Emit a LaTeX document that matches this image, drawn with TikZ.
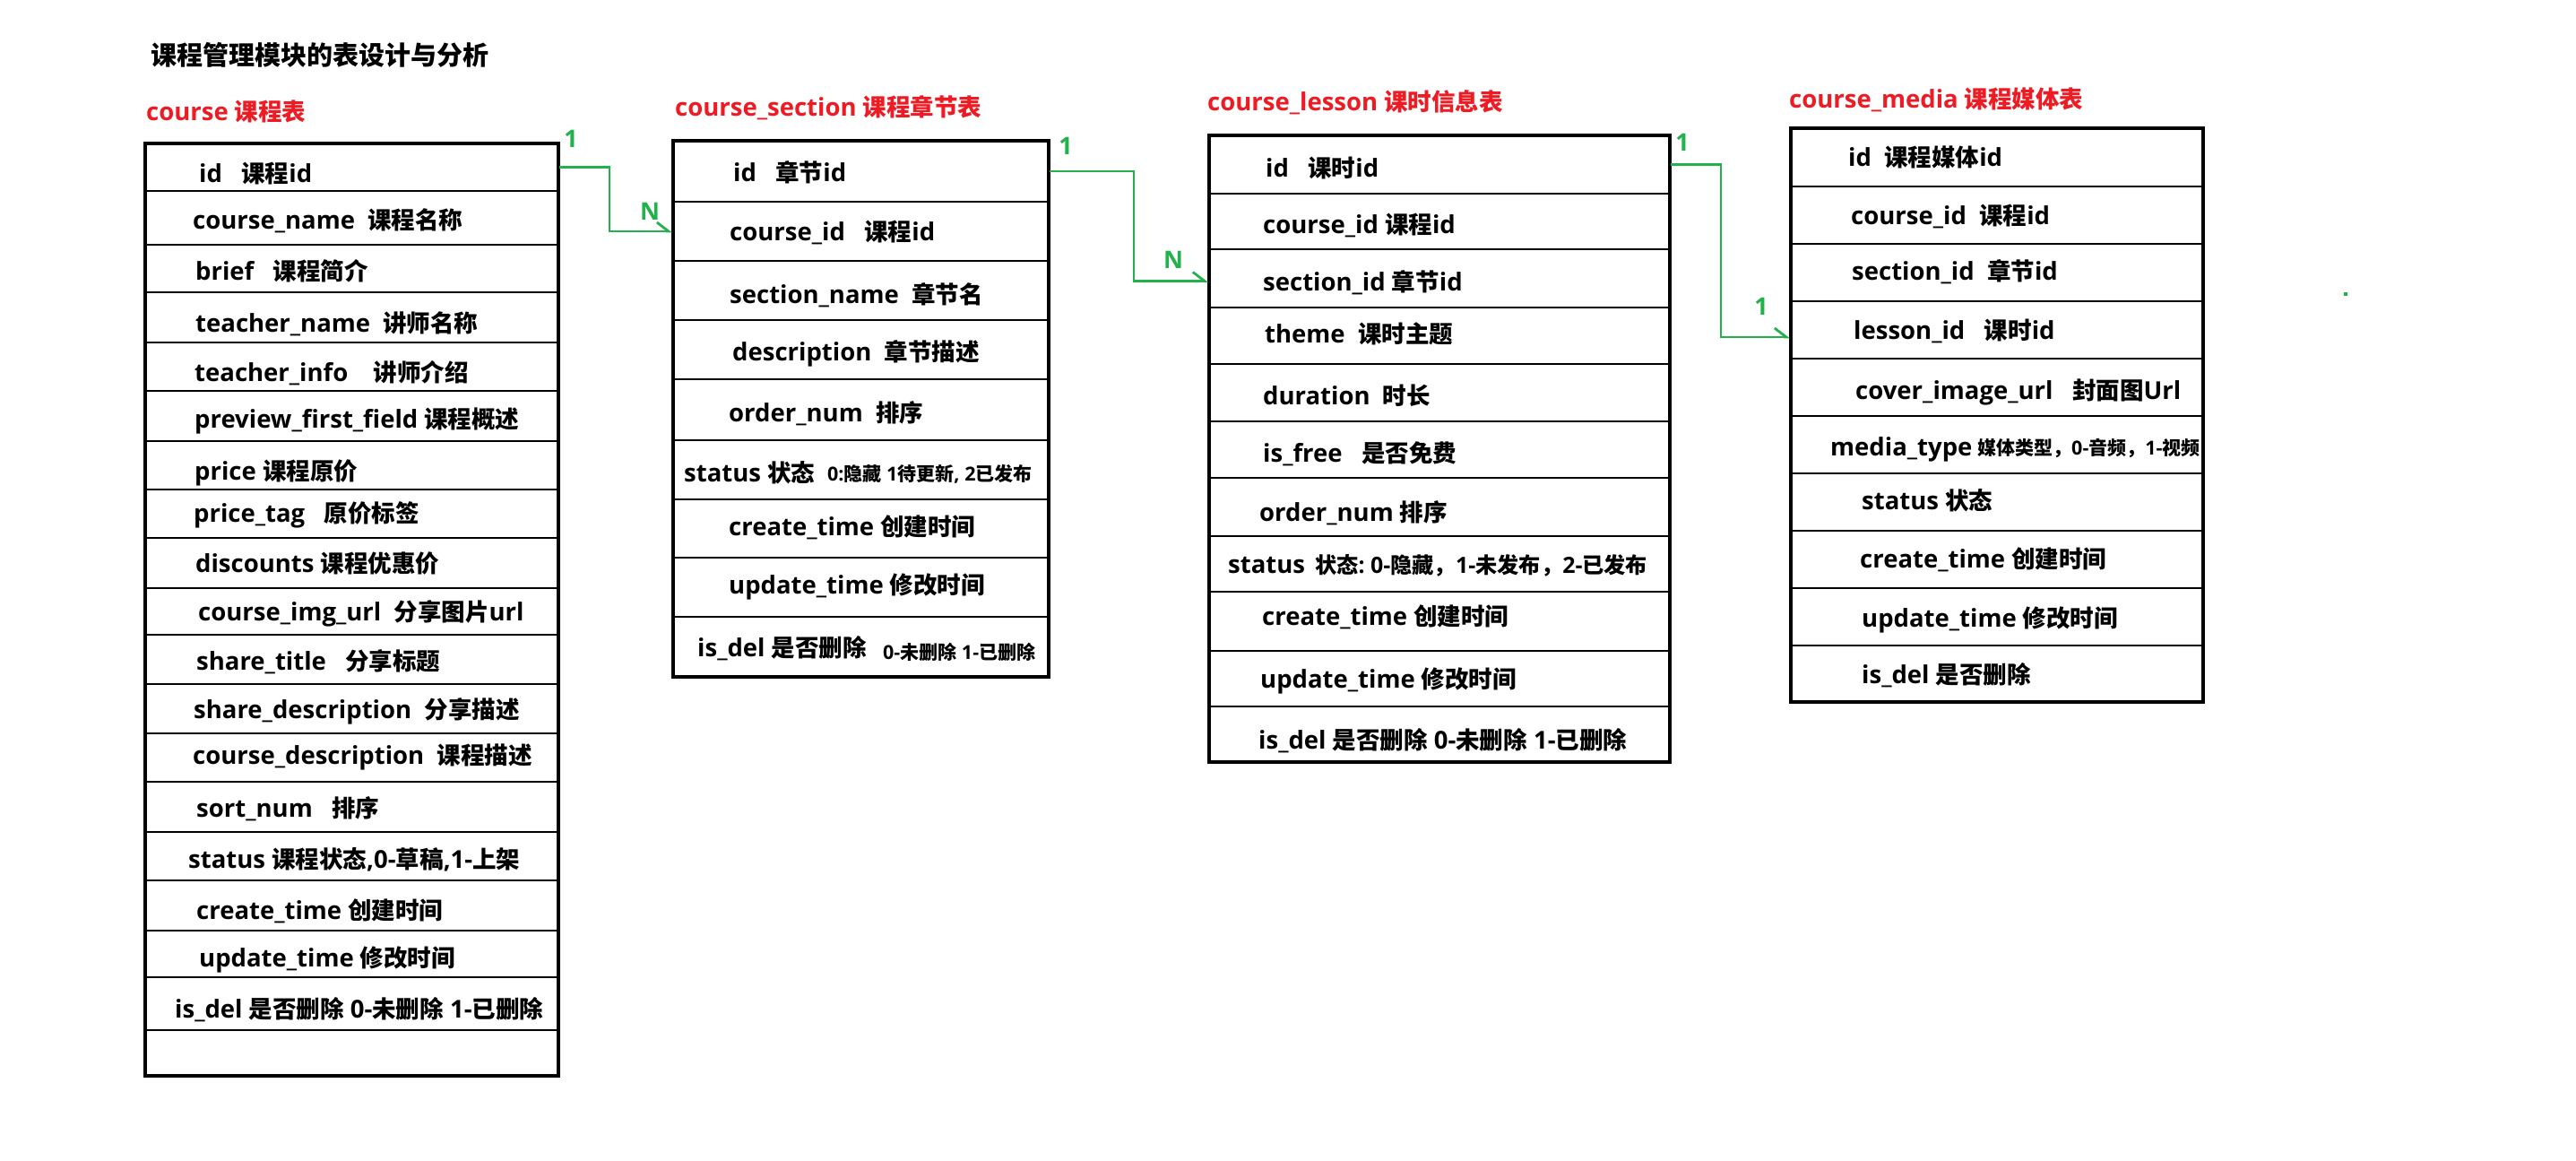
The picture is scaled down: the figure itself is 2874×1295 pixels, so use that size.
\documentclass[tikz,border=0pt]{standalone}
\usepackage{fontspec}
\setmainfont{Open Sans}
\newfontfamily\cjk{Noto Sans CJK SC}
\usetikzlibrary{fit,arrows.meta}
\definecolor{pred}{HTML}{ED1C24}
\definecolor{pgreen}{HTML}{22B14C}
\def\cjksz{26.5}
\newcommand\zh[1]{{\cjk\fontsize{\cjksz}{\cjksz}\selectfont #1}}
\tikzset{
  rowbox/.style={draw, line width=2pt, inner sep=0pt},
  tblbox/.style={draw, line width=4pt, inner sep=0pt},
  fld/.style={anchor=base west, inner sep=0pt, font=\bfseries\fontsize{27.5}{30}\selectfont},
  sml/.style={anchor=base west, inner sep=0pt, font=\bfseries\fontsize{21.5}{24}\selectfont\def\cjksz{21}},
  mid/.style={anchor=base west, inner sep=0pt, font=\bfseries\fontsize{25}{28}\selectfont\def\cjksz{24.2}},
  hdr/.style={fld, text=pred},
  ttl/.style={anchor=base west, inner sep=0pt, font=\bfseries\fontsize{29}{32}\selectfont\def\cjksz{29}},
  lbl/.style={text=pgreen, inner sep=0pt, font=\bfseries\fontsize{27}{30}\selectfont},
  conn/.style={draw=pgreen, line width=2.8pt, -{Straight Barb[harpoon, length=13pt, width=20pt]}}
}
\begin{document}
\begin{tikzpicture}[x=1pt, y=-1pt]
\fill[white] (0,0) rectangle (2874,1295);
\useasboundingbox (0,0) rectangle (2874,1295);

% title and headers
\node[ttl] (title) at (168,73) {\zh{课程管理模块的表设计与分析}};
\node[hdr] (hcourse) at (163,135) {course~\zh{课程表}};
\node[hdr] (hsection) at (753,130) {course\_section~\zh{课程章节表}};
\node[hdr] (hlesson) at (1347,124) {course\_lesson~\zh{课时信息表}};
\node[hdr] (hmedia) at (1996,121) {course\_media~\zh{课程媒体表}};

% course table rows
\foreach \a/\b [count=\i] in {160/213,213/273,273/326,326/382,382/436,436/492,492/546,546/600,600/656,656/708,708/763,763/818,818/872,872/928,928/982,982/1038,1038/1090,1090/1149,1149/1200}
  \node[rowbox, fit={(162,\a) (623,\b)}] (c\i) {};
\node[tblbox, fit={(162,160) (623,1200)}] (course) {};

% section table rows
\foreach \a/\b [count=\i] in {157/225,225/291,291/357,357/423,423/491,491/557,557/622,622/688,688/755}
  \node[rowbox, fit={(751,\a) (1170,\b)}] (s\i) {};
\node[tblbox, fit={(751,157) (1170,755)}] (section) {};

% lesson table rows
\foreach \a/\b [count=\i] in {151/216,216/278,278/343,343/406,406/470,470/533,533/598,598/660,660/726,726/788,788/850}
  \node[rowbox, fit={(1349,\a) (1863,\b)}] (l\i) {};
\node[tblbox, fit={(1349,151) (1863,850)}] (lesson) {};

% media table rows
\foreach \a/\b [count=\i] in {143/208,208/272,272/336,336/400,400/464,464/528,528/592,592/656,656/720,720/783}
  \node[rowbox, fit={(1998,\a) (2458,\b)}] (m\i) {};
\node[tblbox, fit={(1998,143) (2458,783)}] (media) {};

% course fields
\node[fld] (ct1) at (222,203) {id~~~\zh{课程}id};
\node[fld] (ct2) at (215,255) {course\_name~~\zh{课程名称}};
\node[fld] (ct3) at (218,312) {brief~~~\zh{课程简介}};
\node[fld] (ct4) at (218,370) {teacher\_name~~\zh{讲师名称}};
\node[fld] (ct5) at (217,425) {teacher\_info~~~~\zh{讲师介绍}};
\node[fld] (ct6) at (217,477) {preview\_first\_field~\zh{课程概述}};
\node[fld] (ct7) at (217,535) {price~\zh{课程原价}};
\node[fld] (ct8) at (216,582) {price\_tag~~~\zh{原价标签}};
\node[fld] (ct9) at (218,638) {discounts~\zh{课程优惠价}};
\node[fld] (ct10) at (221,692) {course\_img\_url~~\zh{分享图片}url};
\node[fld] (ct11) at (219,747) {share\_title~~~\zh{分享标题}};
\node[fld] (ct12) at (216,801) {share\_description~~\zh{分享描述}};
\node[fld] (ct13) at (215,852) {course\_description~~\zh{课程描述}};
\node[fld] (ct14) at (219,911) {sort\_num~~~\zh{排序}};
\node[fld] (ct15) at (210,968) {status~\zh{课程状态},0-\zh{草稿},1-\zh{上架}};
\node[fld] (ct16) at (219,1025) {create\_time~\zh{创建时间}};
\node[fld] (ct17) at (222,1078) {update\_time~\zh{修改时间}};
\node[fld] (ct18) at (195,1135) {is\_del~\zh{是否删除}~0-\zh{未删除}~1-\zh{已删除}};

% section fields
\node[fld] (st1) at (818,202) {id~~~\zh{章节}id};
\node[fld] (st2) at (814,268) {course\_id~~~\zh{课程}id};
\node[fld] (st3) at (814,338) {section\_name~~\zh{章节名}};
\node[fld] (st4) at (817,402) {description~~\zh{章节描述}};
\node[fld] (st5) at (813,470) {order\_num~~\zh{排序}};
\node[fld] (st6) at (763,537) {status~\zh{状态}};
\node[sml] (st6b) at (923,536) {0:\zh{隐藏}~1\zh{待更新},~2\zh{已发布}};
\node[fld] (st7) at (813,597) {create\_time~\zh{创建时间}};
\node[fld] (st8) at (813,662) {update\_time~\zh{修改时间}};
\node[fld] (st9) at (778,732) {is\_del~\zh{是否删除}};
\node[sml] (st9b) at (985,735) {0-\zh{未删除}~1-\zh{已删除}};

% lesson fields
\node[fld] (lt1) at (1412,197) {id~~~\zh{课时}id};
\node[fld] (lt2) at (1409,260) {course\_id~\zh{课程}id};
\node[fld] (lt3) at (1409,324) {section\_id~\zh{章节}id};
\node[fld] (lt4) at (1411,382) {theme~~\zh{课时主题}};
\node[fld] (lt5) at (1409,451) {duration~~\zh{时长}};
\node[fld] (lt6) at (1409,515) {is\_free~~~\zh{是否免费}};
\node[fld] (lt7) at (1405,581) {order\_num~\zh{排序}};
\node[fld] (lt8) at (1370,639) {status};
\node[mid] (lt8b) at (1467,639) {\zh{状态}:~0-\zh{隐藏，}1-\zh{未发布，}2-\zh{已发布}};
\node[fld] (lt9) at (1408,697) {create\_time~\zh{创建时间}};
\node[fld] (lt10) at (1406,767) {update\_time~\zh{修改时间}};
\node[fld] (lt11) at (1404,835) {is\_del~\zh{是否删除}~0-\zh{未删除}~1-\zh{已删除}};

% media fields
\node[fld] (mt1) at (2062,185) {id~~\zh{课程媒体}id};
\node[fld] (mt2) at (2065,250) {course\_id~~\zh{课程}id};
\node[fld] (mt3) at (2066,312) {section\_id~~\zh{章节}id};
\node[fld] (mt4) at (2068,378) {lesson\_id~~~\zh{课时}id};
\node[fld] (mt5) at (2070,445) {cover\_image\_url~~~\zh{封面图}Url};
\node[fld] (mt6) at (2042,508) {media\_type};
\begin{scope}
  \clip (1998,464) rectangle (2456,528);
  \node[sml] (mt6b) at (2206,507) {\zh{媒体类型，}0-\zh{音频，}1-\zh{视频}};
\end{scope}
\node[fld] (mt7) at (2077,568) {status~\zh{状态}};
\node[fld] (mt8) at (2075,633) {create\_time~\zh{创建时间}};
\node[fld] (mt9) at (2077,699) {update\_time~\zh{修改时间}};
\node[fld] (mt10) at (2077,762) {is\_del~\zh{是否删除}};

% connectors
\draw[conn] (c1.east) -- ++(56,0) |- (s2.west);
\draw[conn] (s1.east) -- ++(94,0) |- ([yshift=-3pt]l3.west);
\draw[conn] (l1.east) -- ++(56,0) |- ([yshift=-8pt]m4.west);

% cardinality labels
\node[lbl] (k1) at (637,155) {1};
\node[lbl] (k2) at (725,236) {N};
\node[lbl] (k3) at (1189,163) {1};
\node[lbl] (k4) at (1309,290) {N};
\node[lbl] (k5) at (1877,159) {1};
\node[lbl] (k6) at (1965,342) {1};

\node[fill=pgreen, minimum size=4pt, inner sep=0pt] (dot) at (2617,328) {};
\end{tikzpicture}
\end{document}
